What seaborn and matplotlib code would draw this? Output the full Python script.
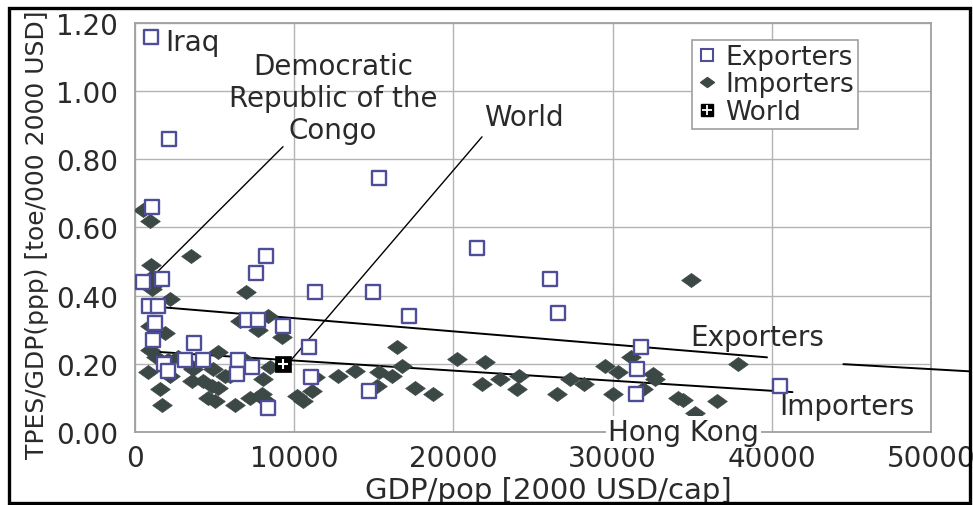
import numpy as np
import pandas as pd
import matplotlib.pyplot as plt
from matplotlib.lines import Line2D
from matplotlib.patches import Rectangle
import seaborn as sns

# exporters (open squares)
exp_x = [1000, 2150, 1050, 500, 1700, 7600, 8250, 11300, 14950, 15350, 21500, 26100,
         26600, 17200, 900, 1450, 1250, 1150, 3700, 7050, 7750, 9300, 1800, 2100,
         3150, 4250, 6500, 6400, 7350, 8350, 10950, 11050, 14700, 31800, 31550, 31500, 40500]
exp_y = [1.16, 0.86, 0.66, 0.44, 0.45, 0.465, 0.515, 0.41, 0.41, 0.745, 0.54, 0.45,
         0.35, 0.34, 0.37, 0.37, 0.32, 0.27, 0.26, 0.33, 0.33, 0.31, 0.20, 0.18,
         0.21, 0.21, 0.21, 0.17, 0.19, 0.07, 0.25, 0.16, 0.12, 0.25, 0.185, 0.11, 0.135]

# importers (filled diamonds)
imp_x = [500, 950, 1000, 3550, 7000, 1450, 1050, 2200, 6600, 7700, 8350, 9250, 950, 1250,
         1900, 950, 1350, 2100, 2700, 5200, 800, 2200, 3650, 4900, 5650, 3600, 4300, 4850,
         5200, 1600, 1700, 4600, 5000, 6300, 7200, 8050, 8000, 8150, 8500, 6900, 3350, 6000,
         10200, 10550, 11100, 11300, 12750, 13800, 15350, 16150, 15200, 16450, 16800, 17600,
         18750, 20200, 22000, 21800, 22950, 24100, 24000, 26500, 27350, 28200, 29500, 30350,
         30000, 31150, 31900, 32550, 32650, 34100, 34900, 37900, 34400, 36550, 35200, 1100]
imp_y = [0.65, 0.62, 0.49, 0.515, 0.41, 0.44, 0.42, 0.39, 0.325, 0.30, 0.34, 0.28, 0.31, 0.29,
         0.29, 0.24, 0.22, 0.21, 0.22, 0.235, 0.175, 0.165, 0.185, 0.185, 0.165, 0.15, 0.15, 0.135,
         0.13, 0.125, 0.08, 0.10, 0.09, 0.08, 0.10, 0.155, 0.11, 0.095, 0.19, 0.21, 0.20, 0.165,
         0.105, 0.09, 0.12, 0.16, 0.165, 0.18, 0.175, 0.165, 0.135, 0.25, 0.195, 0.13,
         0.11, 0.215, 0.205, 0.14, 0.155, 0.165, 0.125, 0.11, 0.155, 0.14, 0.195, 0.175,
         0.11, 0.22, 0.125, 0.17, 0.155, 0.10, 0.445, 0.20, 0.095, 0.09, 0.055, 0.455]

world_x = [9300]
world_y = [0.20]

# trend lines (NaN splits the exporter line where the label hides it)
exp_trend_x = [1700, 39700, np.nan, 44500, 52400]
exp_trend_y = [0.366, 0.219, np.nan, 0.199, 0.178]
imp_trend_x = [750, 41300]
imp_trend_y = [0.237, 0.117]

# pointer lines for the labels
drc_ptr_x = [1070, 9300]
drc_ptr_y = [0.454, 0.837]
world_ptr_x = [9860, 21800]
world_ptr_y = [0.214, 0.866]

x_ticks = [0, 10000, 20000, 30000, 40000, 50000]
y_ticks = [0.0, 0.2, 0.4, 0.6, 0.8, 1.0, 1.2]

EXP_COLOR = '#4d4d98'
IMP_COLOR = '#3b4846'
GRID = '#b3b3b3'

sns.set_theme(style='whitegrid')
plt.rcParams['font.family'] = ['DejaVu Sans']

fig = plt.figure(figsize=(9.73, 5.06), dpi=100)
ax = fig.add_axes([0.1387, 0.1443, 0.8181, 0.8083])

exp_df = pd.DataFrame({'gdp': exp_x, 'tpes': exp_y})
imp_df = pd.DataFrame({'gdp': imp_x, 'tpes': imp_y})
world_df = pd.DataFrame({'gdp': world_x, 'tpes': world_y})

diamond = [(-1, 0), (0, 0.72), (1, 0), (0, -0.72), (-1, 0)]

sns.scatterplot(data=imp_df, x='gdp', y='tpes', ax=ax, marker=diamond, s=200,
                color=IMP_COLOR, edgecolor=IMP_COLOR, linewidth=0.5, zorder=4)
sns.scatterplot(data=exp_df, x='gdp', y='tpes', ax=ax, marker='s', s=110,
                facecolor='white', edgecolor=EXP_COLOR, linewidth=1.7, zorder=5)
sns.scatterplot(data=world_df, x='gdp', y='tpes', ax=ax, marker='s', s=120,
                color='black', edgecolor='black', linewidth=0.5, zorder=6)
sns.scatterplot(data=world_df, x='gdp', y='tpes', ax=ax, marker='+', s=60,
                color='white', linewidth=1.5, zorder=7)

ax.plot(exp_trend_x, exp_trend_y, color='black', lw=1.4, zorder=3, clip_on=False)
ax.plot(imp_trend_x, imp_trend_y, color='black', lw=1.4, zorder=3)
ax.plot(drc_ptr_x, drc_ptr_y, color='black', lw=1.0, zorder=3)
ax.plot(world_ptr_x, world_ptr_y, color='black', lw=1.0, zorder=3)

ax.set_xlim(0, 50000)
ax.set_ylim(0, 1.2)
ax.set_xticks(x_ticks)
ax.set_xticklabels([str(v) for v in x_ticks])
ax.set_yticks(y_ticks)
ax.set_yticklabels([f'{v:.2f}' for v in y_ticks])
ax.tick_params(axis='both', length=0, labelsize=20, colors='#2a2a2a')
ax.tick_params(axis='y', pad=12)
ax.tick_params(axis='x', pad=9)
ax.grid(True, color=GRID, lw=1.0)
for sp in ax.spines.values():
    sp.set_visible(True)
    sp.set_color('#a0a0a0')
    sp.set_linewidth(1.3)

ax.set_xlabel('GDP/pop [2000 USD/cap]', fontsize=21, color='#2a2a2a')
ax.set_ylabel('TPES/GDP(ppp) [toe/000 2000 USD]', fontsize=18, color='#2a2a2a')
ax.xaxis.set_label_coords(0.519, -0.108)
ax.yaxis.set_label_coords(-0.108, 0.484)

txt = dict(fontsize=20, color='#2a2a2a')
ax.text(1900, 1.144, 'Iraq', ha='left', va='center', **txt)
ax.text(12440, 0.98, 'Democratic\nRepublic of the\nCongo', ha='center', va='center',
        multialignment='center', linespacing=1.2, **txt)
ax.text(21900, 0.925, 'World', ha='left', va='center', **txt)
ax.text(34860, 0.278, 'Exporters', ha='left', va='center', **txt)
ax.text(40500, 0.076, 'Importers', ha='left', va='center', clip_on=True, **txt)
ax.text(29700, 0.0, 'Hong Kong', ha='left', va='center', zorder=8, clip_on=False,
        bbox=dict(facecolor='white', edgecolor='none', pad=1.5), **txt)

handles = [
    Line2D([], [], ls='', marker='s', ms=9, mfc='white', mec=EXP_COLOR, mew=1.5),
    Line2D([], [], ls='', marker=diamond, ms=10, mfc=IMP_COLOR, mec=IMP_COLOR),
    (Line2D([], [], ls='', marker='s', ms=9, mfc='black', mec='black'),
     Line2D([], [], ls='', marker='+', ms=7, mec='white', mew=1.3)),
]
leg = ax.legend(handles, ['Exporters', 'Importers', 'World'], loc='upper left',
                bbox_to_anchor=(0.70, 0.958), fontsize=19, frameon=True, fancybox=False,
                edgecolor='#a0a0a0', framealpha=1, borderpad=0.15, labelspacing=0.05,
                handletextpad=0.3, handlelength=0.8, borderaxespad=0)
leg.get_frame().set_linewidth(1.2)
for t in leg.get_texts():
    t.set_color('#2a2a2a')

fig.add_artist(Rectangle((0.0093, 0.004), 0.988, 0.978, transform=fig.transFigure,
                         fill=False, ec='black', lw=2.4))

fig.savefig('out.png', dpi=100)
